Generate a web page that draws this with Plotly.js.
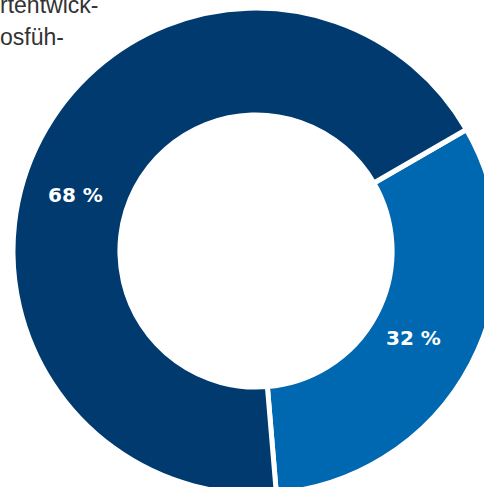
<!DOCTYPE html>
<html><head><meta charset="utf-8">
<script src="https://cdn.plot.ly/plotly-3.0.1.min.js"></script>
<style>html,body{margin:0;padding:0;overflow:hidden;background:#fff;width:484px;height:487px}#c{position:absolute;left:0;top:0}</style>
</head><body><div id="c"></div>
<script>
const categories = ["Anteil B", "Anteil A"];
const values = [32, 68];
const valueLabels = ["32 %", "68 %"];
const colors = ["#0067b1", "#003a6e"];
const headerLines = ["rtentwick-", "osfüh-"];

const W = 512, H = 502;
const px = (x) => x / W, py = (y) => 1 - y / H;

const labelPos = [[413, 338], [75, 195]];
const annotations = valueLabels.map((t, i) => ({
  text: t, xref: "paper", yref: "paper", x: px(labelPos[i][0]), y: py(labelPos[i][1]),
  xanchor: "center", yanchor: "middle", showarrow: false,
  font: {family: "DejaVu Sans, sans-serif", size: 20, color: "#ffffff", weight: "bold"}
}));
headerLines.forEach((t, i) => annotations.push({
  text: t, xref: "paper", yref: "paper", x: px(-2), y: py(20 + 32 * i),
  xanchor: "left", yanchor: "bottom", showarrow: false,
  font: {family: "Liberation Sans, Arial, sans-serif", size: 23, color: "#333333"}
}));

Plotly.newPlot("c", [{
  type: "pie", labels: categories, values: values, sort: false,
  direction: "clockwise", rotation: 60, hole: 0.56,
  marker: {colors: colors, line: {color: "#ffffff", width: 5}},
  textinfo: "none", hoverinfo: "none", showlegend: false,
  domain: {x: [13 / W, 499 / W], y: [8 / H, 494 / H]}
}], {
  width: W, height: H, margin: {l: 0, r: 0, t: 0, b: 0},
  paper_bgcolor: "#ffffff", showlegend: false, annotations: annotations
}, {staticPlot: true});
</script></body></html>
